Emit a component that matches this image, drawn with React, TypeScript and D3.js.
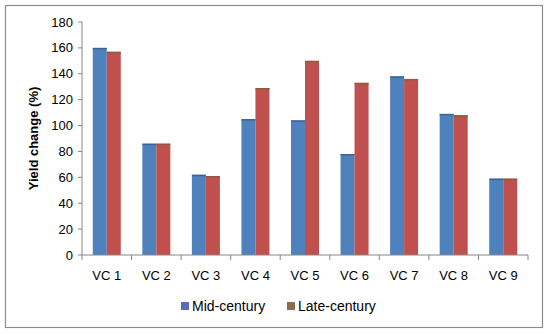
import * as d3 from 'd3';
import { useRef, useEffect } from 'react';

const categories = ['VC 1', 'VC 2', 'VC 3', 'VC 4', 'VC 5', 'VC 6', 'VC 7', 'VC 8', 'VC 9'];
const midCentury = [160, 86, 62, 105, 104, 78, 138, 109, 59];
const lateCentury = [157, 86, 61, 129, 150, 133, 136, 108, 59];
const seriesNames = ['Mid-century', 'Late-century'];
const yTicks = [0, 20, 40, 60, 80, 100, 120, 140, 160, 180];

const FONT = '"Liberation Sans", Arial, sans-serif';

export default function App() {
  const svgRef = useRef<SVGSVGElement | null>(null);

  useEffect(() => {
    const width = 550;
    const height = 335;
    const margin = { top: 22, right: 22, bottom: 80, left: 82 };
    const innerWidth = 528 - margin.left;
    const innerHeight = 255 - margin.top;

    d3.select(svgRef.current).selectAll('*').remove();

    const root = d3.select(svgRef.current).attr('width', width).attr('height', height);

    // Marco exterior
    root
      .append('rect')
      .attr('x', 5.5)
      .attr('y', 5.5)
      .attr('width', 537)
      .attr('height', 322)
      .attr('fill', '#fff')
      .attr('stroke', '#8c8c8c')
      .attr('stroke-width', 1.2);

    const svg = root.append('g').attr('transform', `translate(${margin.left},${margin.top})`);

    const x0 = d3.scaleBand().domain(categories).range([0, innerWidth]).paddingInner(0).paddingOuter(0);
    const x1 = d3
      .scaleBand()
      .domain(seriesNames)
      .range([0, x0.bandwidth()])
      .paddingInner(0)
      .paddingOuter(0.77);
    const y = d3.scaleLinear().domain([0, 180]).range([innerHeight, 0]);
    const colors = ['#4F81BD', '#C0504D'];
    const edges = ['#3d6496', '#8f5a40'];

    // Barras
    [midCentury, lateCentury].forEach((values, s) => {
      values.forEach((v, i) => {
        svg
          .append('rect')
          .attr('x', (x0(categories[i]) ?? 0) + (x1(seriesNames[s]) ?? 0))
          .attr('y', y(v))
          .attr('width', x1.bandwidth())
          .attr('height', innerHeight - y(v))
          .attr('fill', colors[s]);
        svg
          .append('rect')
          .attr('x', (x0(categories[i]) ?? 0) + (x1(seriesNames[s]) ?? 0))
          .attr('y', y(v))
          .attr('width', x1.bandwidth())
          .attr('height', 1.5)
          .attr('fill', edges[s]);
      });
    });

    // Eje Y
    svg
      .append('line')
      .attr('x1', 0)
      .attr('x2', 0)
      .attr('y1', 0)
      .attr('y2', innerHeight)
      .attr('stroke', '#868686');

    yTicks.forEach((t) => {
      svg
        .append('line')
        .attr('x1', -4)
        .attr('x2', 0)
        .attr('y1', y(t))
        .attr('y2', y(t))
        .attr('stroke', '#868686');
      svg
        .append('text')
        .attr('x', -9)
        .attr('y', y(t))
        .attr('dy', '0.35em')
        .attr('text-anchor', 'end')
        .attr('font-family', FONT)
        .attr('font-size', '13px')
        .attr('fill', '#000')
        .text(t);
    });

    // Eje X
    svg
      .append('line')
      .attr('x1', 0)
      .attr('x2', innerWidth)
      .attr('y1', innerHeight)
      .attr('y2', innerHeight)
      .attr('stroke', '#868686');

    categories.forEach((c, i) => {
      const bx = x0(c) ?? 0;
      svg
        .append('line')
        .attr('x1', bx + x0.bandwidth())
        .attr('x2', bx + x0.bandwidth())
        .attr('y1', innerHeight)
        .attr('y2', innerHeight + 5)
        .attr('stroke', '#868686');
      if (i === 0) {
        svg
          .append('line')
          .attr('x1', 0)
          .attr('x2', 0)
          .attr('y1', innerHeight)
          .attr('y2', innerHeight + 5)
          .attr('stroke', '#868686');
      }
      svg
        .append('text')
        .attr('x', bx + x0.bandwidth() / 2)
        .attr('y', innerHeight + 25)
        .attr('text-anchor', 'middle')
        .attr('font-family', FONT)
        .attr('font-size', '13px')
        .attr('fill', '#000')
        .text(c);
    });

    // Título eje Y
    svg
      .append('text')
      .attr('transform', `translate(${-44},${innerHeight / 2}) rotate(-90)`)
      .attr('text-anchor', 'middle')
      .attr('font-family', FONT)
      .attr('font-size', '13px')
      .attr('font-weight', 'bold')
      .attr('fill', '#000')
      .text('Yield change (%)');

    // Leyenda
    const legendColors = ['#5a6cbf', '#86704f'];
    const legendX = [181, 287];
    seriesNames.forEach((name, s) => {
      root
        .append('rect')
        .attr('x', legendX[s])
        .attr('y', 302)
        .attr('width', 8)
        .attr('height', 8)
        .attr('fill', legendColors[s]);
      root
        .append('text')
        .attr('x', legendX[s] + 11)
        .attr('y', 306)
        .attr('dy', '0.35em')
        .attr('font-family', FONT)
        .attr('font-size', '14px')
        .attr('fill', '#000')
        .text(name);
    });
  }, []);

  return (
    <div style={{ position: 'absolute', left: 0, top: 0 }}>
      <svg ref={svgRef} style={{ display: 'block' }} />
    </div>
  );
}
